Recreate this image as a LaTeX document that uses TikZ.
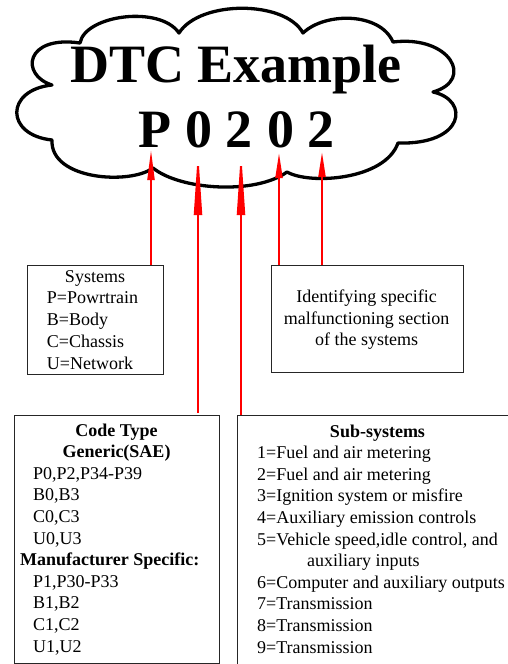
\documentclass[tikz,border=0pt]{standalone}
\usepackage{fontspec}
\setmainfont{Liberation Serif}
\usetikzlibrary{arrows.meta}
\begin{document}
\begin{tikzpicture}[x=1pt,y=-1pt,
  box/.style={draw=black!85, line width=0.8pt, inner sep=0pt, anchor=north west},
  txt/.style={font=\fontsize{18}{21}\selectfont, inner sep=0pt, anchor=base west},
  ctxt/.style={font=\fontsize{18}{21}\selectfont, inner sep=0pt, anchor=base},
  btxt/.style={font=\fontsize{18}{21}\selectfont\bfseries, inner sep=0pt, anchor=base},
  bltxt/.style={font=\fontsize{18}{21}\selectfont\bfseries, inner sep=0pt, anchor=base west},
  big/.style={font=\fontsize{54}{60}\selectfont\bfseries, inner sep=0pt, anchor=base},
  redarrow/.style={red, line width=2pt},
  cloudline/.style={draw=black, line width=3.3pt, line join=round},
]
\useasboundingbox (0,0) rectangle (508,664);
% cloud
\path[cloudline] (52,85)
  .. controls (20,75) and (25,35) .. (80,43)
  .. controls (85,15) and (160,5) .. (179,33)
  .. controls (200,0) and (285,0) .. (303,33)
  .. controls (325,12) and (380,12) .. (393,42)
  .. controls (450,35) and (475,80) .. (433,92)
  .. controls (470,100) and (465,145) .. (398,143)
  .. controls (385,180) and (310,185) .. (287,172)
  .. controls (255,195) and (180,190) .. (153,168)
  .. controls (130,185) and (50,180) .. (52,140)
  .. controls (5,135) and (5,90) .. cycle;
\node[big] (title) at (236,82) {DTC Example};
\node[big] (c1) at (155,147) {P};
\node[big] (c2) at (199,147) {0};
\node[big] (c3) at (239,147) {2};
\node[big] (c4) at (281,147) {0};
\node[big] (c5) at (321,147) {2};
% boxes
\node[box, minimum width=136pt, minimum height=109pt] (sys) at (27,265) {};
\node[box, minimum width=192pt, minimum height=107pt] (ident) at (271,265) {};
\node[box, minimum width=205pt, minimum height=248pt] (code) at (14,415) {};
\node[box, minimum width=280pt, minimum height=260pt] (sub) at (237,415) {};
% arrow tips
\coordinate (t1) at (151,150);
\coordinate (t2) at (198,150);
\coordinate (t3) at (241,150);
\coordinate (t4) at (279,153);
\coordinate (t5) at (322,152);
\draw[redarrow, -{Triangle[length=30pt,width=7pt]}] (sys.north -| t1) -- (t1);
\draw[redarrow, -{Triangle[length=65pt,width=8pt]}] ([yshift=2pt]code.north -| t2) -- (t2);
\draw[redarrow, -{Triangle[length=65pt,width=8pt]}] (sub.north -| t3) -- (t3);
\draw[redarrow, -{Triangle[length=25pt,width=7pt]}] (ident.north -| t4) -- (t4);
\draw[redarrow, -{Triangle[length=25pt,width=7pt]}] (ident.north -| t5) -- (t5);
% systems text
\node[ctxt] (s0) at (95,282) {Systems};
\node[txt] (s1) at (46.7,303) {P=Powrtrain};
\node[txt] (s2) at (46.7,325) {B=Body};
\node[txt] (s3) at (46.7,347) {C=Chassis};
\node[txt] (s4) at (46.7,369) {U=Network};
% identifying text
\node[ctxt] (i1) at (366.7,302) {Identifying specific};
\node[ctxt] (i2) at (366.7,324) {malfunctioning section};
\node[ctxt] (i3) at (366.7,345) {of the systems};
% code type text
\node[btxt] (k0) at (116.5,436) {Code Type};
\node[btxt] (k1) at (116.5,457.6) {Generic(SAE)};
\node[txt] (k2) at (33,479.2) {P0,P2,P34-P39};
\node[txt] (k3) at (33,500.8) {B0,B3};
\node[txt] (k4) at (33,522.4) {C0,C3};
\node[txt] (k5) at (33,544) {U0,U3};
\node[bltxt] (k6) at (20,565.6) {Manufacturer Specific:};
\node[txt] (k7) at (33,587.2) {P1,P30-P33};
\node[txt] (k8) at (33,608.8) {B1,B2};
\node[txt] (k9) at (33,630.4) {C1,C2};
\node[txt] (k10) at (33,652) {U1,U2};
% sub-systems text
\node[btxt] (u0) at (377.5,437) {Sub-systems};
\node[txt] (u1) at (257,458.6) {1=Fuel and air metering};
\node[txt] (u2) at (257,480.2) {2=Fuel and air metering};
\node[txt] (u3) at (257,501.8) {3=Ignition system or misfire};
\node[txt] (u4) at (257,523.4) {4=Auxiliary emission controls};
\node[txt] (u5) at (257,545) {5=Vehicle speed,idle control, and};
\node[txt] (u5b) at (307,566.6) {auxiliary inputs};
\node[txt] (u6) at (257,588.2) {6=Computer and auxiliary outputs};
\node[txt] (u7) at (257,609.8) {7=Transmission};
\node[txt] (u8) at (257,631.4) {8=Transmission};
\node[txt] (u9) at (257,653) {9=Transmission};
\end{tikzpicture}
\end{document}
